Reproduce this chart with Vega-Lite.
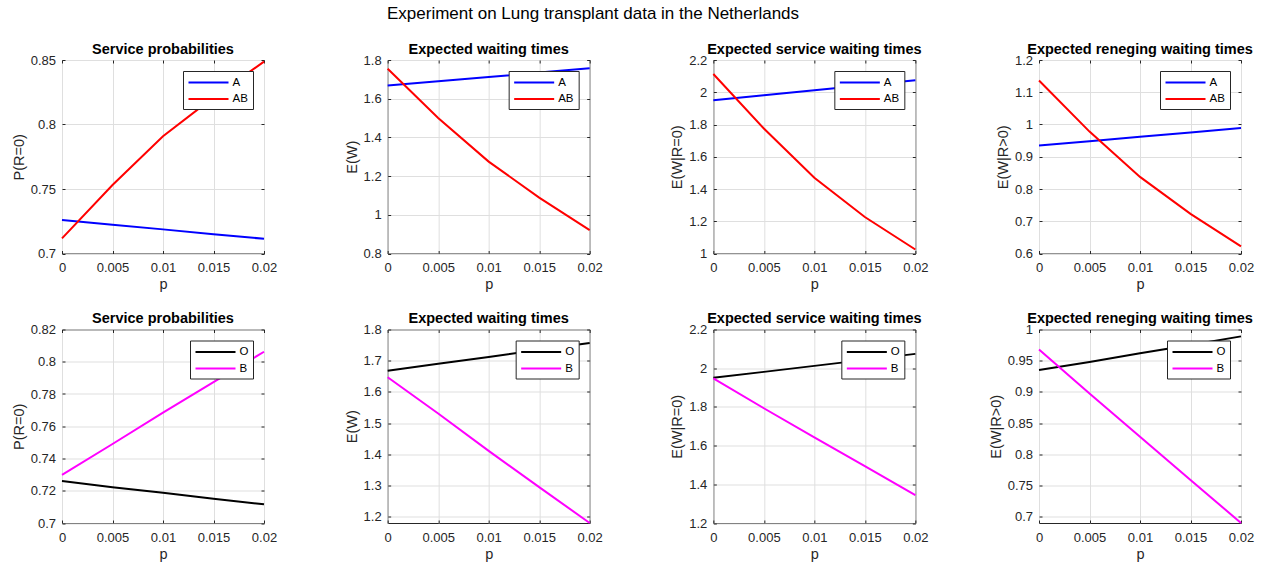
{
  "$schema": "https://vega.github.io/schema/vega-lite/v6.json",
  "background": "white",
  "padding": {"left": 10, "top": 5, "right": 5, "bottom": 5},
  "title": {"text": "Experiment on Lung transplant data in the Netherlands", "fontSize": 17, "fontWeight": "normal", "color": "#000000", "anchor": "start", "frame": "group", "dx": 325, "offset": 18},
  "data": {"values": [
    {"panel": "p1", "s": "A", "p": 0, "v": 0.7259}, {"panel": "p1", "s": "A", "p": 0.005, "v": 0.7222}, {"panel": "p1", "s": "A", "p": 0.01, "v": 0.7187}, {"panel": "p1", "s": "A", "p": 0.015, "v": 0.7150}, {"panel": "p1", "s": "A", "p": 0.02, "v": 0.7114},
    {"panel": "p1", "s": "AB", "p": 0, "v": 0.7117}, {"panel": "p1", "s": "AB", "p": 0.005, "v": 0.7531}, {"panel": "p1", "s": "AB", "p": 0.01, "v": 0.7909}, {"panel": "p1", "s": "AB", "p": 0.015, "v": 0.8210}, {"panel": "p1", "s": "AB", "p": 0.02, "v": 0.8487},
    {"panel": "p2", "s": "A", "p": 0, "v": 1.668}, {"panel": "p2", "s": "A", "p": 0.005, "v": 1.690}, {"panel": "p2", "s": "A", "p": 0.01, "v": 1.712}, {"panel": "p2", "s": "A", "p": 0.015, "v": 1.735}, {"panel": "p2", "s": "A", "p": 0.02, "v": 1.757},
    {"panel": "p2", "s": "AB", "p": 0, "v": 1.755}, {"panel": "p2", "s": "AB", "p": 0.005, "v": 1.500}, {"panel": "p2", "s": "AB", "p": 0.01, "v": 1.275}, {"panel": "p2", "s": "AB", "p": 0.015, "v": 1.089}, {"panel": "p2", "s": "AB", "p": 0.02, "v": 0.921},
    {"panel": "p3", "s": "A", "p": 0, "v": 1.951}, {"panel": "p3", "s": "A", "p": 0.005, "v": 1.981}, {"panel": "p3", "s": "A", "p": 0.01, "v": 2.012}, {"panel": "p3", "s": "A", "p": 0.015, "v": 2.043}, {"panel": "p3", "s": "A", "p": 0.02, "v": 2.074},
    {"panel": "p3", "s": "AB", "p": 0, "v": 2.113}, {"panel": "p3", "s": "AB", "p": 0.005, "v": 1.775}, {"panel": "p3", "s": "AB", "p": 0.01, "v": 1.470}, {"panel": "p3", "s": "AB", "p": 0.015, "v": 1.226}, {"panel": "p3", "s": "AB", "p": 0.02, "v": 1.025},
    {"panel": "p4", "s": "A", "p": 0, "v": 0.935}, {"panel": "p4", "s": "A", "p": 0.005, "v": 0.948}, {"panel": "p4", "s": "A", "p": 0.01, "v": 0.962}, {"panel": "p4", "s": "A", "p": 0.015, "v": 0.975}, {"panel": "p4", "s": "A", "p": 0.02, "v": 0.989},
    {"panel": "p4", "s": "AB", "p": 0, "v": 1.1365}, {"panel": "p4", "s": "AB", "p": 0.005, "v": 0.978}, {"panel": "p4", "s": "AB", "p": 0.01, "v": 0.8375}, {"panel": "p4", "s": "AB", "p": 0.015, "v": 0.723}, {"panel": "p4", "s": "AB", "p": 0.02, "v": 0.622},
    {"panel": "p5", "s": "O", "p": 0, "v": 0.7260}, {"panel": "p5", "s": "O", "p": 0.005, "v": 0.7222}, {"panel": "p5", "s": "O", "p": 0.01, "v": 0.7187}, {"panel": "p5", "s": "O", "p": 0.015, "v": 0.7150}, {"panel": "p5", "s": "O", "p": 0.02, "v": 0.7116},
    {"panel": "p5", "s": "B", "p": 0, "v": 0.7299}, {"panel": "p5", "s": "B", "p": 0.005, "v": 0.7490}, {"panel": "p5", "s": "B", "p": 0.01, "v": 0.7685}, {"panel": "p5", "s": "B", "p": 0.015, "v": 0.7873}, {"panel": "p5", "s": "B", "p": 0.02, "v": 0.8062},
    {"panel": "p6", "s": "O", "p": 0, "v": 1.668}, {"panel": "p6", "s": "O", "p": 0.005, "v": 1.690}, {"panel": "p6", "s": "O", "p": 0.01, "v": 1.712}, {"panel": "p6", "s": "O", "p": 0.015, "v": 1.735}, {"panel": "p6", "s": "O", "p": 0.02, "v": 1.757},
    {"panel": "p6", "s": "B", "p": 0, "v": 1.647}, {"panel": "p6", "s": "B", "p": 0.005, "v": 1.531}, {"panel": "p6", "s": "B", "p": 0.01, "v": 1.411}, {"panel": "p6", "s": "B", "p": 0.015, "v": 1.295}, {"panel": "p6", "s": "B", "p": 0.02, "v": 1.180},
    {"panel": "p7", "s": "O", "p": 0, "v": 1.951}, {"panel": "p7", "s": "O", "p": 0.005, "v": 1.981}, {"panel": "p7", "s": "O", "p": 0.01, "v": 2.012}, {"panel": "p7", "s": "O", "p": 0.015, "v": 2.043}, {"panel": "p7", "s": "O", "p": 0.02, "v": 2.074},
    {"panel": "p7", "s": "B", "p": 0, "v": 1.947}, {"panel": "p7", "s": "B", "p": 0.005, "v": 1.793}, {"panel": "p7", "s": "B", "p": 0.01, "v": 1.642}, {"panel": "p7", "s": "B", "p": 0.015, "v": 1.494}, {"panel": "p7", "s": "B", "p": 0.02, "v": 1.344},
    {"panel": "p8", "s": "O", "p": 0, "v": 0.935}, {"panel": "p8", "s": "O", "p": 0.005, "v": 0.948}, {"panel": "p8", "s": "O", "p": 0.01, "v": 0.962}, {"panel": "p8", "s": "O", "p": 0.015, "v": 0.975}, {"panel": "p8", "s": "O", "p": 0.02, "v": 0.989},
    {"panel": "p8", "s": "B", "p": 0, "v": 0.968}, {"panel": "p8", "s": "B", "p": 0.005, "v": 0.8975}, {"panel": "p8", "s": "B", "p": 0.01, "v": 0.828}, {"panel": "p8", "s": "B", "p": 0.015, "v": 0.759}, {"panel": "p8", "s": "B", "p": 0.02, "v": 0.690}
  ]},
  "columns": 4,
  "bounds": "flush",
  "spacing": {"row": 75.5, "column": 123.67},
  "resolve": {"scale": {"color": "independent", "x": "independent", "y": "independent"}},
  "concat": [
    {
      "title": "Service probabilities", "width": 202, "height": 193.5,
      "transform": [{"filter": "datum.panel === 'p1'"}],
      "resolve": {"axis": {"x": "independent", "y": "independent"}},
      "layer": [
        {
          "mark": {"type": "line", "strokeWidth": 2},
          "encoding": {
            "x": {"field": "p", "type": "quantitative", "scale": {"domain": [0, 0.02], "nice": false, "zero": false}, "axis": {"values": [0, 0.005, 0.01, 0.015, 0.02], "format": "~g", "title": "p"}},
            "y": {"field": "v", "type": "quantitative", "scale": {"domain": [0.7, 0.85], "nice": false, "zero": false}, "axis": {"values": [0.7, 0.75, 0.8, 0.85], "format": "~g", "title": "P(R=0)"}},
            "color": {"field": "s", "type": "nominal", "scale": {"domain": ["A", "AB"], "range": ["#0000ff", "#ff0000"]}, "legend": {"title": null}}
          }
        },
        {
          "mark": {"type": "line", "opacity": 0},
          "encoding": {
            "x": {"field": "p", "type": "quantitative", "axis": {"orient": "top", "values": [0, 0.005, 0.01, 0.015, 0.02], "labels": false, "grid": false, "title": null}},
            "y": {"field": "v", "type": "quantitative", "axis": {"orient": "right", "values": [0.7, 0.75, 0.8, 0.85], "labels": false, "grid": false, "title": null}}
          }
        }
      ]
    },
    {
      "title": "Expected waiting times", "width": 202, "height": 193.5,
      "transform": [{"filter": "datum.panel === 'p2'"}],
      "resolve": {"axis": {"x": "independent", "y": "independent"}},
      "layer": [
        {
          "mark": {"type": "line", "strokeWidth": 2},
          "encoding": {
            "x": {"field": "p", "type": "quantitative", "scale": {"domain": [0, 0.02], "nice": false, "zero": false}, "axis": {"values": [0, 0.005, 0.01, 0.015, 0.02], "format": "~g", "title": "p"}},
            "y": {"field": "v", "type": "quantitative", "scale": {"domain": [0.8, 1.8], "nice": false, "zero": false}, "axis": {"values": [0.8, 1, 1.2, 1.4, 1.6, 1.8], "format": "~g", "title": "E(W)"}},
            "color": {"field": "s", "type": "nominal", "scale": {"domain": ["A", "AB"], "range": ["#0000ff", "#ff0000"]}, "legend": {"title": null}}
          }
        },
        {
          "mark": {"type": "line", "opacity": 0},
          "encoding": {
            "x": {"field": "p", "type": "quantitative", "axis": {"orient": "top", "values": [0, 0.005, 0.01, 0.015, 0.02], "labels": false, "grid": false, "title": null}},
            "y": {"field": "v", "type": "quantitative", "axis": {"orient": "right", "values": [0.8, 1, 1.2, 1.4, 1.6, 1.8], "labels": false, "grid": false, "title": null}}
          }
        }
      ]
    },
    {
      "title": "Expected service waiting times", "width": 202, "height": 193.5,
      "transform": [{"filter": "datum.panel === 'p3'"}],
      "resolve": {"axis": {"x": "independent", "y": "independent"}},
      "layer": [
        {
          "mark": {"type": "line", "strokeWidth": 2},
          "encoding": {
            "x": {"field": "p", "type": "quantitative", "scale": {"domain": [0, 0.02], "nice": false, "zero": false}, "axis": {"values": [0, 0.005, 0.01, 0.015, 0.02], "format": "~g", "title": "p"}},
            "y": {"field": "v", "type": "quantitative", "scale": {"domain": [1, 2.2], "nice": false, "zero": false}, "axis": {"values": [1, 1.2, 1.4, 1.6, 1.8, 2, 2.2], "format": "~g", "title": "E(W|R=0)"}},
            "color": {"field": "s", "type": "nominal", "scale": {"domain": ["A", "AB"], "range": ["#0000ff", "#ff0000"]}, "legend": {"title": null}}
          }
        },
        {
          "mark": {"type": "line", "opacity": 0},
          "encoding": {
            "x": {"field": "p", "type": "quantitative", "axis": {"orient": "top", "values": [0, 0.005, 0.01, 0.015, 0.02], "labels": false, "grid": false, "title": null}},
            "y": {"field": "v", "type": "quantitative", "axis": {"orient": "right", "values": [1, 1.2, 1.4, 1.6, 1.8, 2, 2.2], "labels": false, "grid": false, "title": null}}
          }
        }
      ]
    },
    {
      "title": "Expected reneging waiting times", "width": 202, "height": 193.5,
      "transform": [{"filter": "datum.panel === 'p4'"}],
      "resolve": {"axis": {"x": "independent", "y": "independent"}},
      "layer": [
        {
          "mark": {"type": "line", "strokeWidth": 2},
          "encoding": {
            "x": {"field": "p", "type": "quantitative", "scale": {"domain": [0, 0.02], "nice": false, "zero": false}, "axis": {"values": [0, 0.005, 0.01, 0.015, 0.02], "format": "~g", "title": "p"}},
            "y": {"field": "v", "type": "quantitative", "scale": {"domain": [0.6, 1.2], "nice": false, "zero": false}, "axis": {"values": [0.6, 0.7, 0.8, 0.9, 1, 1.1, 1.2], "format": "~g", "title": "E(W|R>0)"}},
            "color": {"field": "s", "type": "nominal", "scale": {"domain": ["A", "AB"], "range": ["#0000ff", "#ff0000"]}, "legend": {"title": null}}
          }
        },
        {
          "mark": {"type": "line", "opacity": 0},
          "encoding": {
            "x": {"field": "p", "type": "quantitative", "axis": {"orient": "top", "values": [0, 0.005, 0.01, 0.015, 0.02], "labels": false, "grid": false, "title": null}},
            "y": {"field": "v", "type": "quantitative", "axis": {"orient": "right", "values": [0.6, 0.7, 0.8, 0.9, 1, 1.1, 1.2], "labels": false, "grid": false, "title": null}}
          }
        }
      ]
    },
    {
      "title": "Service probabilities", "width": 202, "height": 193.5,
      "transform": [{"filter": "datum.panel === 'p5'"}],
      "resolve": {"axis": {"x": "independent", "y": "independent"}},
      "layer": [
        {
          "mark": {"type": "line", "strokeWidth": 2},
          "encoding": {
            "x": {"field": "p", "type": "quantitative", "scale": {"domain": [0, 0.02], "nice": false, "zero": false}, "axis": {"values": [0, 0.005, 0.01, 0.015, 0.02], "format": "~g", "title": "p"}},
            "y": {"field": "v", "type": "quantitative", "scale": {"domain": [0.7, 0.82], "nice": false, "zero": false}, "axis": {"values": [0.7, 0.72, 0.74, 0.76, 0.78, 0.8, 0.82], "format": "~g", "title": "P(R=0)"}},
            "color": {"field": "s", "type": "nominal", "scale": {"domain": ["O", "B"], "range": ["#000000", "#ff00ff"]}, "legend": {"title": null}}
          }
        },
        {
          "mark": {"type": "line", "opacity": 0},
          "encoding": {
            "x": {"field": "p", "type": "quantitative", "axis": {"orient": "top", "values": [0, 0.005, 0.01, 0.015, 0.02], "labels": false, "grid": false, "title": null}},
            "y": {"field": "v", "type": "quantitative", "axis": {"orient": "right", "values": [0.7, 0.72, 0.74, 0.76, 0.78, 0.8, 0.82], "labels": false, "grid": false, "title": null}}
          }
        }
      ]
    },
    {
      "title": "Expected waiting times", "width": 202, "height": 193.5,
      "transform": [{"filter": "datum.panel === 'p6'"}],
      "resolve": {"axis": {"x": "independent", "y": "independent"}},
      "layer": [
        {
          "mark": {"type": "line", "strokeWidth": 2},
          "encoding": {
            "x": {"field": "p", "type": "quantitative", "scale": {"domain": [0, 0.02], "nice": false, "zero": false}, "axis": {"values": [0, 0.005, 0.01, 0.015, 0.02], "format": "~g", "title": "p"}},
            "y": {"field": "v", "type": "quantitative", "scale": {"domain": [1.18, 1.8], "nice": false, "zero": false}, "axis": {"values": [1.2, 1.3, 1.4, 1.5, 1.6, 1.7, 1.8], "format": "~g", "title": "E(W)"}},
            "color": {"field": "s", "type": "nominal", "scale": {"domain": ["O", "B"], "range": ["#000000", "#ff00ff"]}, "legend": {"title": null}}
          }
        },
        {
          "mark": {"type": "line", "opacity": 0},
          "encoding": {
            "x": {"field": "p", "type": "quantitative", "axis": {"orient": "top", "values": [0, 0.005, 0.01, 0.015, 0.02], "labels": false, "grid": false, "title": null}},
            "y": {"field": "v", "type": "quantitative", "axis": {"orient": "right", "values": [1.2, 1.3, 1.4, 1.5, 1.6, 1.7, 1.8], "labels": false, "grid": false, "title": null}}
          }
        }
      ]
    },
    {
      "title": "Expected service waiting times", "width": 202, "height": 193.5,
      "transform": [{"filter": "datum.panel === 'p7'"}],
      "resolve": {"axis": {"x": "independent", "y": "independent"}},
      "layer": [
        {
          "mark": {"type": "line", "strokeWidth": 2},
          "encoding": {
            "x": {"field": "p", "type": "quantitative", "scale": {"domain": [0, 0.02], "nice": false, "zero": false}, "axis": {"values": [0, 0.005, 0.01, 0.015, 0.02], "format": "~g", "title": "p"}},
            "y": {"field": "v", "type": "quantitative", "scale": {"domain": [1.2, 2.2], "nice": false, "zero": false}, "axis": {"values": [1.2, 1.4, 1.6, 1.8, 2, 2.2], "format": "~g", "title": "E(W|R=0)"}},
            "color": {"field": "s", "type": "nominal", "scale": {"domain": ["O", "B"], "range": ["#000000", "#ff00ff"]}, "legend": {"title": null}}
          }
        },
        {
          "mark": {"type": "line", "opacity": 0},
          "encoding": {
            "x": {"field": "p", "type": "quantitative", "axis": {"orient": "top", "values": [0, 0.005, 0.01, 0.015, 0.02], "labels": false, "grid": false, "title": null}},
            "y": {"field": "v", "type": "quantitative", "axis": {"orient": "right", "values": [1.2, 1.4, 1.6, 1.8, 2, 2.2], "labels": false, "grid": false, "title": null}}
          }
        }
      ]
    },
    {
      "title": "Expected reneging waiting times", "width": 202, "height": 193.5,
      "transform": [{"filter": "datum.panel === 'p8'"}],
      "resolve": {"axis": {"x": "independent", "y": "independent"}},
      "layer": [
        {
          "mark": {"type": "line", "strokeWidth": 2},
          "encoding": {
            "x": {"field": "p", "type": "quantitative", "scale": {"domain": [0, 0.02], "nice": false, "zero": false}, "axis": {"values": [0, 0.005, 0.01, 0.015, 0.02], "format": "~g", "title": "p"}},
            "y": {"field": "v", "type": "quantitative", "scale": {"domain": [0.69, 1.0], "nice": false, "zero": false}, "axis": {"values": [0.7, 0.75, 0.8, 0.85, 0.9, 0.95, 1], "format": "~g", "title": "E(W|R>0)"}},
            "color": {"field": "s", "type": "nominal", "scale": {"domain": ["O", "B"], "range": ["#000000", "#ff00ff"]}, "legend": {"title": null}}
          }
        },
        {
          "mark": {"type": "line", "opacity": 0},
          "encoding": {
            "x": {"field": "p", "type": "quantitative", "axis": {"orient": "top", "values": [0, 0.005, 0.01, 0.015, 0.02], "labels": false, "grid": false, "title": null}},
            "y": {"field": "v", "type": "quantitative", "axis": {"orient": "right", "values": [0.7, 0.75, 0.8, 0.85, 0.9, 0.95, 1], "labels": false, "grid": false, "title": null}}
          }
        }
      ]
    }
  ],
  "config": {
    "font": "Liberation Sans",
    "view": {"stroke": "#262626", "strokeWidth": 1},
    "axis": {
      "domain": false, "grid": true, "gridColor": "#dfdfdf", "gridWidth": 1,
      "ticks": true, "tickColor": "#262626", "tickSize": -3, "tickWidth": 1,
      "labelFontSize": 13, "labelColor": "#262626", "labelFlush": false, "labelOverlap": false,
      "titleFontSize": 14.5, "titleFontWeight": "normal", "titleColor": "#262626"
    },
    "axisX": {"labelPadding": 11, "titlePadding": 3},
    "axisY": {"labelPadding": 9.5, "titlePadding": 4},
    "title": {"fontSize": 14.5, "fontWeight": "bold", "color": "#000000", "offset": -3, "anchor": "middle"},
    "legend": {
      "orient": "top-right", "offset": 11, "padding": 4.5,
      "strokeColor": "#262626", "fillColor": "white",
      "symbolType": "M-1,0H5.667", "symbolSize": 144, "symbolStrokeWidth": 2,
      "labelFontSize": 11.5, "labelColor": "#000000", "labelOffset": 31,
      "rowPadding": 3.5
    }
  }
}
